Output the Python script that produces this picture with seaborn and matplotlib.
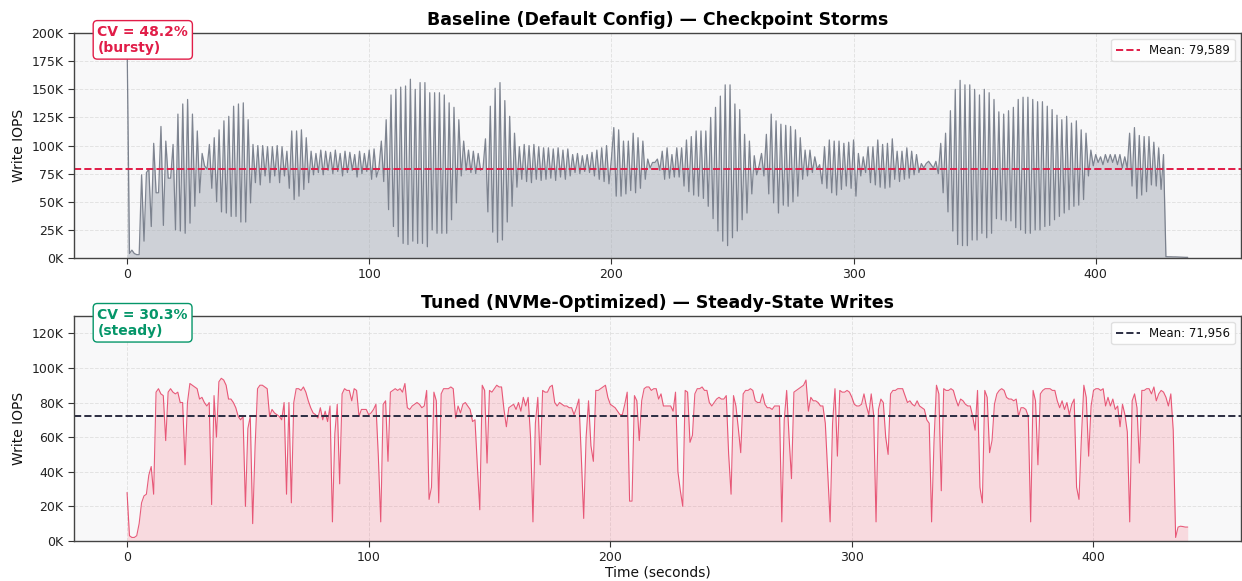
import numpy as np
import matplotlib
matplotlib.use("Agg")
import matplotlib.pyplot as plt
from matplotlib.ticker import FuncFormatter, MultipleLocator
import seaborn as sns

# write IOPS per second, in thousands
baseline_k = [
    195, 4, 7, 4, 3, 3, 74, 15, 76, 79, 28, 102, 58, 58, 117, 29, 104, 71, 71, 101,
    25, 128, 24, 137, 22, 141, 31, 128, 46, 113, 58, 93, 82, 79, 101, 62, 107, 50, 114, 41,
    122, 40, 126, 37, 135, 37, 137, 32, 138, 32, 123, 49, 101, 67, 100, 65, 100, 73, 99, 67,
    99, 73, 100, 67, 99, 73, 95, 62, 113, 52, 113, 55, 114, 61, 107, 67, 95, 74, 93, 76,
    96, 74, 95, 78, 94, 75, 96, 77, 93, 73, 95, 76, 94, 78, 92, 72, 95, 75, 93, 77,
    96, 70, 97, 72, 80, 104, 68, 123, 43, 145, 28, 150, 19, 152, 13, 153, 12, 159, 15, 150,
    13, 156, 13, 156, 10, 147, 25, 147, 22, 147, 22, 145, 22, 138, 34, 134, 49, 123, 73, 104,
    78, 96, 76, 95, 75, 93, 78, 80, 106, 41, 135, 23, 151, 14, 156, 16, 140, 32, 126, 46,
    111, 63, 99, 70, 101, 68, 100, 67, 101, 70, 99, 69, 98, 70, 98, 71, 97, 69, 98, 72,
    96, 70, 97, 73, 92, 76, 93, 75, 91, 77, 92, 76, 94, 73, 96, 70, 98, 68, 100, 66,
    88, 116, 55, 114, 55, 104, 57, 104, 60, 111, 58, 107, 62, 104, 70, 88, 80, 85, 85, 88,
    78, 95, 70, 98, 71, 92, 72, 98, 72, 98, 64, 105, 59, 108, 56, 113, 55, 113, 53, 113,
    46, 125, 35, 134, 24, 144, 15, 154, 11, 154, 18, 137, 24, 132, 34, 110, 40, 104, 57, 91,
    74, 82, 93, 73, 110, 57, 128, 49, 122, 40, 119, 47, 118, 46, 117, 50, 114, 55, 107, 70,
    96, 73, 96, 76, 90, 79, 83, 66, 99, 62, 105, 58, 104, 56, 104, 61, 102, 64, 103, 62,
    105, 55, 93, 73, 90, 76, 99, 67, 99, 65, 105, 63, 101, 62, 102, 63, 106, 70, 95, 68,
    95, 70, 98, 71, 95, 74, 92, 76, 84, 80, 84, 86, 83, 80, 86, 75, 102, 58, 111, 41,
    131, 24, 150, 12, 158, 11, 154, 11, 154, 16, 150, 16, 145, 22, 150, 18, 147, 22, 141, 35,
    130, 34, 128, 33, 131, 33, 134, 27, 141, 25, 143, 22, 143, 22, 141, 25, 139, 25, 139, 28,
    135, 29, 132, 34, 127, 37, 123, 40, 126, 43, 120, 46, 122, 47, 114, 52, 111, 73, 96, 82,
    92, 85, 90, 83, 92, 85, 92, 85, 92, 83, 92, 80, 90, 80, 111, 64, 116, 53, 109, 56,
    108, 59, 108, 65, 103, 64, 98, 61, 92, 1.2, 1.1, 1.1, 1.0, 1.0, 0.9, 0.8, 0.7, 0.6, 0.6,
]

tuned_k = [
    28, 3, 2, 2, 3, 10, 22, 26, 27, 38, 43, 27, 86, 88, 85, 84, 58, 86, 88, 86,
    85, 86, 80, 80, 44, 80, 91, 90, 89, 88, 82, 83, 80, 78, 80, 21, 84, 60, 92, 94,
    93, 90, 82, 82, 80, 77, 72, 70, 72, 20, 65, 72, 10, 55, 88, 90, 90, 89, 88, 72,
    76, 74, 73, 72, 70, 80, 27, 80, 22, 80, 88, 88, 87, 89, 86, 81, 77, 74, 73, 71,
    77, 70, 75, 69, 78, 11, 62, 79, 33, 85, 88, 87, 87, 81, 88, 87, 72, 76, 76, 76,
    73, 74, 76, 79, 49, 11, 79, 81, 46, 86, 87, 88, 87, 88, 86, 91, 77, 76, 78, 79,
    80, 79, 77, 78, 87, 24, 31, 86, 81, 22, 85, 88, 88, 88, 89, 88, 71, 78, 74, 79,
    80, 78, 76, 69, 70, 43, 18, 90, 87, 45, 87, 86, 88, 90, 89, 89, 76, 66, 77, 78,
    79, 76, 80, 75, 83, 78, 83, 60, 11, 68, 83, 44, 87, 86, 86, 89, 90, 80, 78, 80,
    79, 78, 78, 77, 77, 73, 77, 82, 49, 13, 60, 81, 55, 46, 87, 87, 88, 89, 90, 83,
    79, 78, 77, 75, 73, 73, 79, 86, 23, 23, 84, 81, 58, 81, 88, 89, 89, 87, 88, 88,
    82, 85, 78, 78, 78, 78, 75, 86, 40, 29, 20, 87, 86, 57, 61, 85, 88, 88, 89, 87,
    87, 80, 78, 80, 82, 83, 82, 82, 84, 50, 27, 84, 78, 65, 51, 85, 87, 87, 88, 87,
    81, 80, 80, 85, 79, 77, 77, 76, 78, 78, 78, 11, 70, 87, 60, 36, 86, 87, 88, 89,
    90, 93, 75, 83, 81, 81, 80, 78, 78, 68, 40, 11, 68, 88, 49, 87, 86, 86, 87, 86,
    83, 79, 78, 78, 79, 85, 78, 73, 85, 73, 11, 76, 82, 80, 60, 50, 85, 87, 87, 88,
    88, 88, 84, 80, 81, 79, 78, 81, 78, 77, 76, 70, 68, 11, 58, 90, 85, 29, 88, 87,
    87, 88, 87, 82, 78, 82, 81, 79, 78, 78, 72, 64, 87, 31, 22, 87, 83, 51, 58, 79,
    85, 87, 88, 87, 83, 82, 82, 81, 82, 72, 77, 77, 76, 72, 11, 87, 81, 44, 85, 87,
    88, 88, 88, 87, 87, 81, 77, 81, 76, 80, 73, 79, 82, 31, 24, 60, 90, 83, 49, 78,
    87, 88, 88, 87, 88, 78, 83, 78, 82, 76, 78, 66, 79, 73, 63, 11, 81, 85, 77, 45,
    87, 87, 88, 88, 85, 89, 81, 85, 87, 86, 83, 78, 85, 64, 2, 8, 8.5, 8.3, 8, 8,
]

base_mean = 79589
tuned_mean = 71956
base_cv = 48.2
tuned_cv = 30.3

baseline = np.array(baseline_k) * 1000
tuned = np.array(tuned_k) * 1000
t_base = np.arange(len(baseline))
t_tuned = np.arange(len(tuned))

sns.set_style("whitegrid")
plt.rcParams['font.family'] = ['DejaVu Sans']
plt.rcParams['text.color'] = '#111111'
plt.rcParams['axes.labelcolor'] = '#111111'
plt.rcParams['xtick.color'] = '#222222'
plt.rcParams['ytick.color'] = '#222222'

fig, (ax1, ax2) = plt.subplots(2, 1, figsize=(12.42, 5.81), dpi=100)
fig.subplots_adjust(left=0.0596, right=0.999, top=0.943, bottom=0.069, hspace=0.258)

kfmt = FuncFormatter(lambda v, p: f"{int(round(v / 1000))}K")

# --- baseline
ax1.fill_between(t_base, baseline, color='#9ca3af', alpha=0.45, linewidth=0)
sns.lineplot(x=t_base, y=baseline, ax=ax1, color='#6b7280', linewidth=0.9, alpha=0.85)
ax1.axhline(base_mean, color='#e11d48', linestyle='--', linewidth=1.4,
            label=f"Mean: {base_mean:,}")
ax1.set_ylim(0, 200000)
ax1.yaxis.set_major_locator(MultipleLocator(25000))
ax1.set_title("Baseline (Default Config) — Checkpoint Storms", fontsize=12.5,
              fontweight='bold', color='black', pad=6)
ax1.text(0.02, 0.97, f"CV = {base_cv}%\n(bursty)", transform=ax1.transAxes,
         color='#e11d48', fontsize=10, fontweight='bold', ha='left', va='center',
         bbox=dict(boxstyle='round,pad=0.3', facecolor='white', edgecolor='#e11d48'), zorder=10)

# --- tuned
ax2.fill_between(t_tuned, tuned, color='#f87185', alpha=0.22, linewidth=0)
sns.lineplot(x=t_tuned, y=tuned, ax=ax2, color='#e11d48', linewidth=0.8, alpha=0.7)
ax2.axhline(tuned_mean, color='#2b2d42', linestyle='--', linewidth=1.4,
            label=f"Mean: {tuned_mean:,}")
ax2.set_ylim(0, 130000)
ax2.yaxis.set_major_locator(MultipleLocator(20000))
ax2.set_title("Tuned (NVMe-Optimized) — Steady-State Writes", fontsize=12.5,
              fontweight='bold', color='black', pad=6)
ax2.text(0.02, 0.97, f"CV = {tuned_cv}%\n(steady)", transform=ax2.transAxes,
         color='#059669', fontsize=10, fontweight='bold', ha='left', va='center',
         bbox=dict(boxstyle='round,pad=0.3', facecolor='white', edgecolor='#059669'), zorder=10)
ax2.set_xlabel("Time (seconds)", fontsize=10, labelpad=1)

for ax in (ax1, ax2):
    ax.set_facecolor('#f8f8f9')
    ax.yaxis.set_major_formatter(kfmt)
    ax.set_ylabel("Write IOPS", fontsize=10)
    ax.xaxis.set_major_locator(MultipleLocator(100))
    ax.grid(True, linestyle='--', color='#dddddd', linewidth=0.7, alpha=0.8)
    ax.tick_params(axis='both', labelsize=9, length=4, color='#333333', left=True, bottom=True)
    for s in ax.spines.values():
        s.set_color('#444444')
        s.set_linewidth(1.0)
    ax.legend(loc='upper right', fontsize=8.5, frameon=True, facecolor='white',
              edgecolor='#dddddd', framealpha=0.9)

fig.savefig("out.png", dpi=100)
